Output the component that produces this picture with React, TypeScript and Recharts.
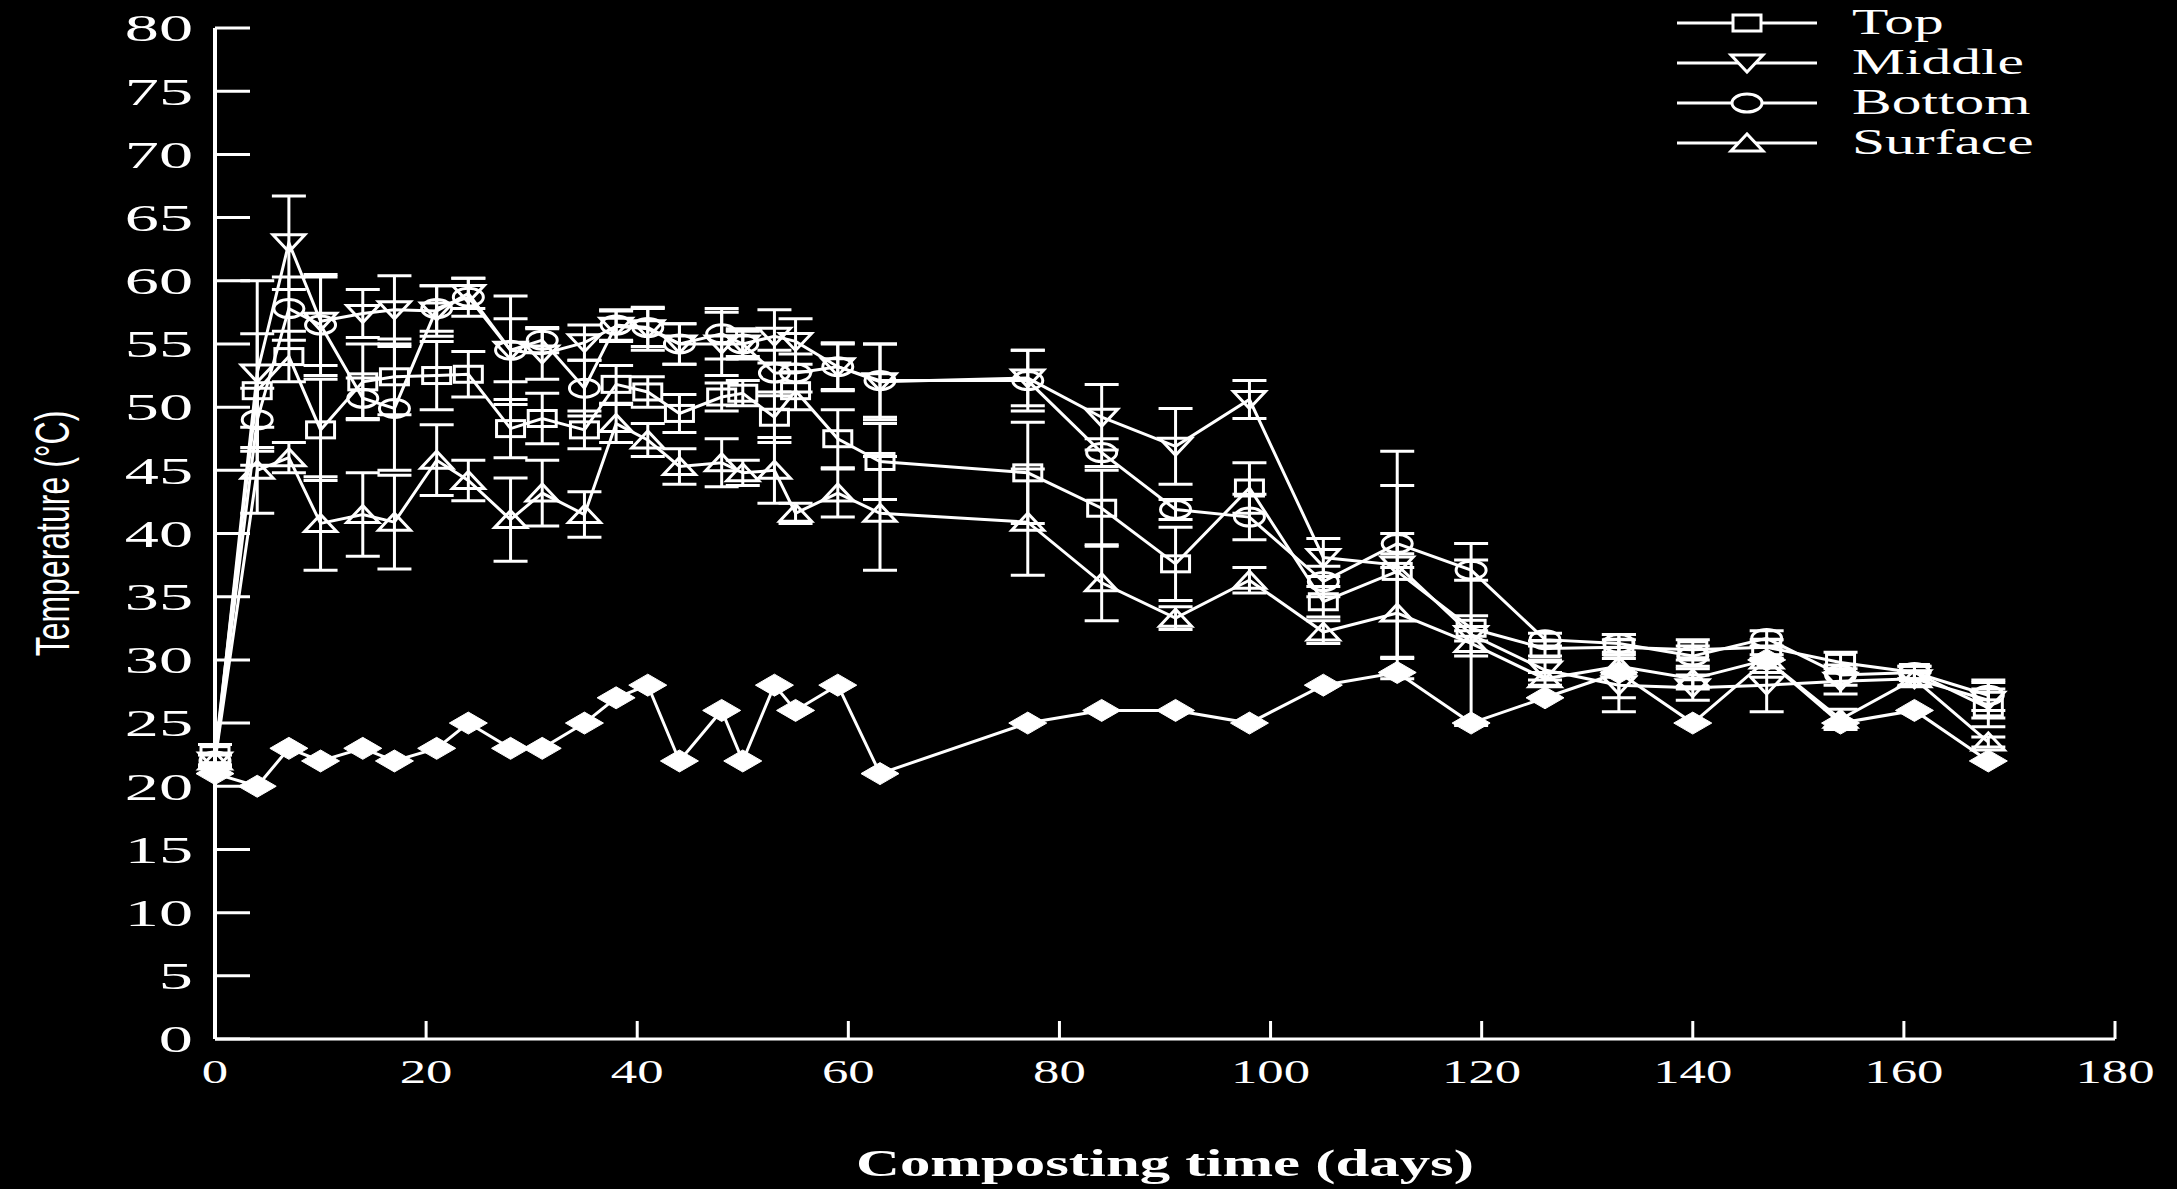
import React from "react";
import { LineChart, Line, XAxis, YAxis, ErrorBar, Legend } from "recharts";

// composting days sampled
const DAYS = [0, 4, 7, 10, 14, 17, 21, 24, 28, 31, 35, 38, 41, 44, 48, 50, 53, 55, 59, 63, 77, 84, 91, 98, 105, 112, 119, 126, 133, 140, 147, 154, 161, 168];

const TOP = [22.5, 51.3, 54.0, 48.2, 52.0, 52.4, 52.5, 52.6, 48.3, 49.1, 48.2, 51.8, 51.2, 49.5, 50.8, 51.1, 49.2, 51.3, 47.5, 45.7, 44.8, 42.0, 37.6, 43.6, 34.6, 37.0, 32.5, 30.9, 31.0, 30.8, 31.0, 29.8, 29.0, 26.2];
const TOP_SD = [0.8, 4.5, 2.0, 4.0, 3.0, 3.0, 2.7, 1.8, 2.3, 2.0, 1.5, 1.5, 1.2, 1.5, 1.1, 1.0, 2.0, 1.5, 2.3, 3.0, 4.0, 3.0, 2.9, 2.0, 1.2, 6.8, 1.0, 0.6, 0.6, 0.8, 0.6, 0.8, 0.5, 1.5];

const MIDDLE = [22.0, 52.7, 63.0, 56.8, 57.4, 57.7, 57.6, 59.0, 54.5, 54.2, 55.1, 56.4, 56.2, 55.0, 55.0, 55.0, 55.6, 55.2, 53.2, 52.0, 52.3, 49.2, 46.9, 50.6, 38.1, 37.5, 32.0, 29.2, 28.0, 27.8, 28.0, 28.3, 28.5, 26.8];
const MIDDLE_SD = [0.5, 7.3, 3.7, 3.5, 1.9, 2.7, 2.0, 1.2, 4.3, 2.0, 1.4, 1.2, 1.7, 1.6, 2.5, 1.2, 2.1, 1.8, 1.9, 3.0, 2.2, 2.6, 3.0, 1.5, 1.5, 9.0, 7.2, 0.8, 2.1, 1.0, 2.1, 1.0, 0.6, 1.4];

const BOTTOM = [22.0, 49.0, 57.8, 56.5, 50.7, 49.9, 57.8, 58.7, 54.5, 55.3, 51.5, 56.5, 56.3, 55.0, 55.8, 55.0, 52.7, 52.7, 53.2, 52.1, 52.1, 46.4, 41.9, 41.3, 36.2, 39.2, 37.1, 31.6, 31.3, 30.3, 31.7, 28.8, 29.0, 27.2];
const BOTTOM_SD = [0.5, 2.5, 2.5, 4.0, 1.6, 4.9, 1.8, 1.5, 2.5, 1.0, 2.2, 1.2, 1.5, 1.6, 2.0, 1.0, 1.8, 1.5, 1.8, 2.9, 2.4, 1.1, 0.8, 1.8, 1.2, 0.8, 0.8, 0.5, 0.7, 0.8, 0.6, 0.8, 0.5, 1.2];

const SURFACE = [22.0, 45.0, 46.0, 40.8, 41.5, 40.9, 45.8, 44.2, 41.1, 43.2, 41.5, 48.7, 47.4, 45.3, 45.6, 44.8, 45.0, 41.6, 43.2, 41.6, 40.9, 36.1, 33.3, 36.3, 32.2, 33.7, 31.3, 28.5, 29.5, 28.5, 30.0, 25.3, 28.5, 23.5];
const SURFACE_SD = [0.5, 3.4, 1.2, 3.7, 3.3, 3.7, 2.8, 1.6, 3.3, 2.6, 1.8, 1.5, 1.3, 1.4, 1.9, 1.0, 2.6, 0.8, 1.9, 4.5, 4.2, 3.0, 0.9, 1.0, 0.9, 3.6, 1.0, 0.5, 2.5, 0.8, 1.0, 0.8, 0.5, 0.4];

// ambient air (filled diamonds, not in legend)
const AMBIENT = [21, 20, 23, 22, 23, 22, 23, 25, 23, 23, 25, 27, 28, 22, 26, 22, 28, 26, 28, 21, 25, 26, 26, 25, 28, 29, 25, 27, 29, 25, 30, 25, 26, 22];

const SERIES_NAMES = ["Top", "Middle", "Bottom", "Surface"];
const X_TICKS = [0, 20, 40, 60, 80, 100, 120, 140, 160, 180];
const Y_TICKS = [0, 5, 10, 15, 20, 25, 30, 35, 40, 45, 50, 55, 60, 65, 70, 75, 80];

const rows = DAYS.map((day, i) => ({
  day,
  top: TOP[i],
  topSd: TOP_SD[i],
  middle: MIDDLE[i],
  middleSd: MIDDLE_SD[i],
  bottom: BOTTOM[i],
  bottomSd: BOTTOM_SD[i],
  surface: SURFACE[i],
  surfaceSd: SURFACE_SD[i],
  ambient: AMBIENT[i],
}));

// the scanned figure is stretched sideways, so text gets the same stretch
const SX = 1.6;
const SERIF = "Liberation Serif";
const Y_GAP = 22;
const X_GAP = 20;

type Mark = { cx: number; cy: number; fill?: string };

const Square = ({ cx, cy, fill = "none" }: Mark) => (
  <rect x={cx - 14} y={cy - 8} width={28} height={16} fill={fill} stroke="#fff" strokeWidth={3} />
);
const TriDown = ({ cx, cy, fill = "none" }: Mark) => (
  <polygon points={`${cx - 16},${cy - 8} ${cx + 16},${cy - 8} ${cx},${cy + 9}`} fill={fill} stroke="#fff" strokeWidth={3} />
);
const Oval = ({ cx, cy, fill = "none" }: Mark) => (
  <ellipse cx={cx} cy={cy} rx={15} ry={9} fill={fill} stroke="#fff" strokeWidth={3} />
);
const TriUp = ({ cx, cy, fill = "none" }: Mark) => (
  <polygon points={`${cx - 16},${cy + 8} ${cx + 16},${cy + 8} ${cx},${cy - 9}`} fill={fill} stroke="#fff" strokeWidth={3} />
);
const Diamond = ({ cx, cy }: Mark) => (
  <polygon points={`${cx - 19},${cy} ${cx},${cy - 11} ${cx + 19},${cy} ${cx},${cy + 11}`} fill="#fff" stroke="#fff" strokeWidth={1} />
);

const MARKS = [Square, TriDown, Oval, TriUp];

const dotOf = (Shape: (m: Mark) => React.ReactElement) => (p: any) => (
  <Shape key={`d-${p.index}`} cx={p.cx} cy={p.cy} />
);

const YTick = (p: any) => {
  const axisX = p.x + Y_GAP;
  return (
    <g>
      <line x1={axisX} x2={axisX + 35} y1={p.y} y2={p.y} stroke="#fff" strokeWidth={3} />
      <text
        transform={`translate(${p.x},${p.y}) scale(1.75,1)`}
        textAnchor="end"
        dominantBaseline="central"
        fill="#fff"
        fontSize={39}
        fontFamily={SERIF}
      >
        {p.payload.value}
      </text>
    </g>
  );
};

const XTick = (p: any) => {
  const axisY = p.y - X_GAP;
  return (
    <g>
      <line x1={p.x} x2={p.x} y1={axisY} y2={axisY - 18} stroke="#fff" strokeWidth={3} />
      <text
        transform={`translate(${p.x},${axisY + 33}) scale(${SX},1)`}
        textAnchor="middle"
        dominantBaseline="central"
        fill="#fff"
        fontSize={33}
        fontFamily={SERIF}
      >
        {p.payload.value}
      </text>
    </g>
  );
};

const XTitle = (p: any) => {
  const vb = p.viewBox;
  return (
    <text
      transform={`translate(${vb.x + vb.width / 2},${vb.y + 124}) scale(${SX},1)`}
      textAnchor="middle"
      dominantBaseline="central"
      fill="#fff"
      fontSize={38}
      fontWeight="bold"
      fontFamily={SERIF}
    >
      Composting time (days)
    </text>
  );
};

const YTitle = (p: any) => {
  const vb = p.viewBox;
  return (
    <text
      transform={`translate(${vb.x + 53},${vb.y + vb.height / 2}) scale(1.5,1) rotate(-90)`}
      textAnchor="middle"
      dominantBaseline="central"
      fill="#fff"
      fontSize={32}
      fontFamily="Liberation Sans"
    >
      Temperature (°C)
    </text>
  );
};

const LegendBox = () => (
  <svg width={470} height={170}>
    {SERIES_NAMES.map((name, i) => {
      const y = 23 + i * 40;
      const Shape = MARKS[i];
      return (
        <g key={name}>
          <line x1={7} x2={147} y1={y} y2={y} stroke="#fff" strokeWidth={3} />
          <Shape cx={77} cy={y} fill="#000" />
          <text
            transform={`translate(182,${y}) scale(1.7,1)`}
            dominantBaseline="central"
            fill="#fff"
            fontSize={35}
            fontFamily={SERIF}
          >
            {name}
          </text>
        </g>
      );
    })}
  </svg>
);

const SERIES = [
  { key: "top", sd: "topSd", shape: Square },
  { key: "middle", sd: "middleSd", shape: TriDown },
  { key: "bottom", sd: "bottomSd", shape: Oval },
  { key: "surface", sd: "surfaceSd", shape: TriUp },
];

export default function App() {
  return (
    <div style={{ position: "absolute", left: 0, top: 0, width: 2177, height: 1189, background: "#000" }}>
      <LineChart width={2177} height={1189} data={rows} margin={{ top: 28, right: 62, bottom: 10, left: 0 }}>
        <XAxis
          dataKey="day"
          type="number"
          domain={[0, 180]}
          ticks={X_TICKS}
          interval={0}
          height={140}
          axisLine={{ stroke: "#fff", strokeWidth: 3 }}
          tickLine={false}
          tickSize={0}
          tickMargin={X_GAP}
          tick={<XTick />}
          label={<XTitle />}
        />
        <YAxis
          type="number"
          domain={[0, 80]}
          ticks={Y_TICKS}
          interval={0}
          width={215}
          axisLine={{ stroke: "#fff", strokeWidth: 4 }}
          tickLine={false}
          tickSize={0}
          tickMargin={Y_GAP}
          tick={<YTick />}
          label={<YTitle />}
        />
        <Legend
          content={<LegendBox />}
          layout="horizontal"
          verticalAlign="middle"
          align="center"
          wrapperStyle={{ top: 0, left: 1670, width: 470, height: 170 }}
        />
        <Line
          dataKey="ambient"
          type="linear"
          stroke="#fff"
          strokeWidth={3}
          dot={dotOf(Diamond)}
          activeDot={false}
          legendType="none"
          isAnimationActive={false}
        />
        {SERIES.map((s) => (
          <Line
            key={s.key}
            dataKey={s.key}
            type="linear"
            stroke="#fff"
            strokeWidth={3}
            dot={dotOf(s.shape)}
            activeDot={false}
            isAnimationActive={false}
          >
            <ErrorBar dataKey={s.sd} direction="y" width={17} stroke="#fff" strokeWidth={3} />
          </Line>
        ))}
      </LineChart>
    </div>
  );
}
